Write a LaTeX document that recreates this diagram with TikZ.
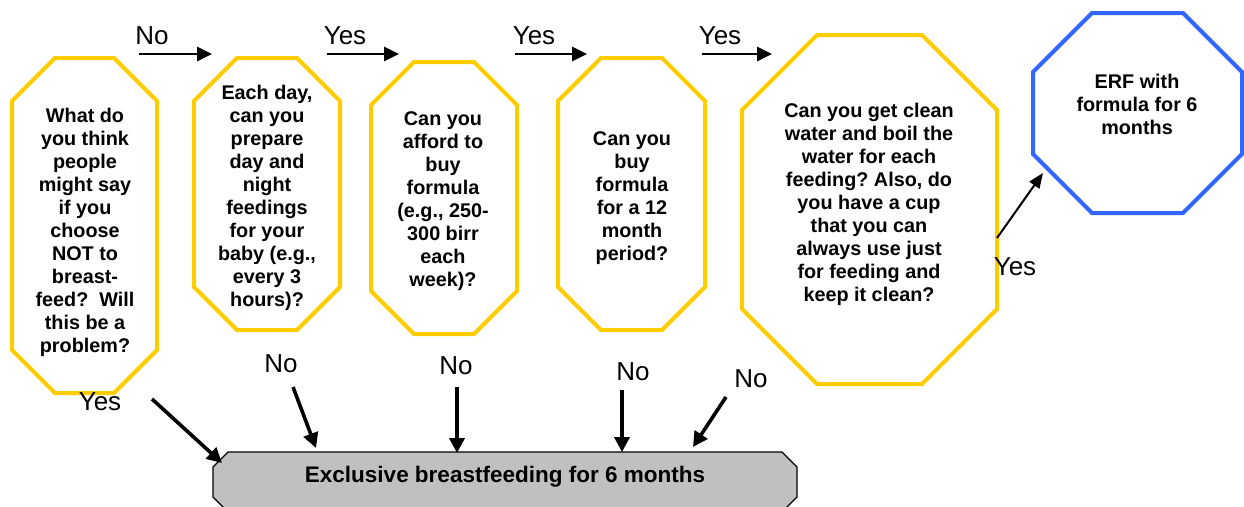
\documentclass[tikz,border=0pt]{standalone}
\usepackage{fontspec}
\setmainfont{Liberation Sans}
\usetikzlibrary{arrows.meta}
\definecolor{oyellow}{HTML}{FFCC00}
\definecolor{oblue}{HTML}{3366FF}
\definecolor{ogray}{HTML}{C0C0C0}
\frenchspacing
% octagon: [style] x1 y1 x2 y2 chamfer
\newcommand\octo[6][]{\draw[#1] ({#2+#6},#3) -- ({#4-#6},#3) -- (#4,{#3+#6}) -- (#4,{#5-#6}) -- ({#4-#6},#5) -- ({#2+#6},#5) -- (#2,{#5-#6}) -- (#2,{#3+#6}) -- cycle;}
\tikzset{
  qbox/.style={draw=oyellow,line width=4pt,line join=miter},
  endbox/.style={draw=oblue,line width=4pt},
  ebfbox/.style={draw=black,fill=ogray,line width=1.3pt},
  qtext/.style={align=center,inner sep=0pt,font=\fontsize{19.8}{23}\selectfont\bfseries},
  lbl/.style={inner sep=0pt,anchor=base,font=\fontsize{26}{30}\selectfont},
  toparrow/.style={line width=2.6pt,-{Triangle[length=15pt,width=14pt]}},
  botarrow/.style={line width=3.6pt,-{Triangle[length=15pt,width=15pt]}},
  thinarrow/.style={line width=2pt,-{Triangle[length=15pt,width=12pt]}}
}
\begin{document}
\begin{tikzpicture}[x=1pt,y=-1pt]
\useasboundingbox (0,0) rectangle (1244,506);
% shapes
\octo[qbox]{12}{58}{157}{393}{43}
\octo[qbox]{194}{58}{340}{330}{43}
\octo[qbox]{371}{62}{517}{334}{43}
\octo[qbox]{558}{58}{705}{330}{43}
\octo[qbox]{742}{35}{997}{384}{75}
\octo[endbox]{1033}{13}{1242}{213}{59}
\octo[ebfbox]{213}{452}{797}{512}{15}
% texts
\node[qtext] (q1) at (85,232) {What do\\you think\\people\\might say\\if you\\choose\\NOT to\\breast-\\feed?\ \ Will\\this be a\\problem?};
\node[qtext] (q2) at (267,198) {Each day,\\can you\\prepare\\day and\\night\\feedings\\for your\\baby (e.g.,\\every 3\\hours)?};
\node[qtext] (q3) at (443,201) {Can you\\afford to\\buy\\formula\\(e.g., 250-\\300 birr\\each\\week)?};
\node[qtext] (q4) at (632,198) {Can you\\buy\\formula\\for a 12\\month\\period?};
\node[qtext] (q5) at (869,204) {Can you get clean\\water and boil the\\water for each\\feeding? Also, do\\you have a cup\\that you can\\always use just\\for feeding and\\keep it clean?};
\node[qtext] (erf) at (1137,104) {ERF with\\formula for 6\\months};
\node[qtext,font=\fontsize{22.5}{26}\selectfont\bfseries] (ebf) at (505,477) {Exclusive breastfeeding for 6 months};
% arrow end points
\coordinate (t1a) at (139,54); \coordinate (t1b) at (212,54);
\coordinate (t2a) at (327,54); \coordinate (t2b) at (399,54);
\coordinate (t3a) at (515,54); \coordinate (t3b) at (587,54);
\coordinate (t4a) at (702,54); \coordinate (t4b) at (772,54);
\coordinate (ya) at (997,238); \coordinate (yb) at (1043,173);
\coordinate (b1a) at (152,399); \coordinate (b1b) at (222,463);
\coordinate (b2a) at (293,387); \coordinate (b2b) at (316,448);
\coordinate (b3a) at (457,387); \coordinate (b3b) at (457,453);
\coordinate (b4a) at (622,390); \coordinate (b4b) at (622,452);
\coordinate (b5a) at (726,397); \coordinate (b5b) at (693,447);
% arrows
\draw[toparrow] (t1a) -- (t1b);
\draw[toparrow] (t2a) -- (t2b);
\draw[toparrow] (t3a) -- (t3b);
\draw[toparrow] (t4a) -- (t4b);
\draw[thinarrow] (ya) -- (yb);
\draw[botarrow] (b1a) -- (b1b);
\draw[botarrow] (b2a) -- (b2b);
\draw[botarrow] (b3a) -- (b3b);
\draw[botarrow] (b4a) -- (b4b);
\draw[botarrow] (b5a) -- (b5b);
% labels
\node[lbl] (l1) at (152,44) {No};
\node[lbl] (l2) at (345,44) {Yes};
\node[lbl] (l3) at (534,44) {Yes};
\node[lbl] (l4) at (720,44) {Yes};
\node[lbl] (l5) at (1015,275) {Yes};
\node[lbl] (l6) at (100,410) {Yes};
\node[lbl] (l7) at (281,372) {No};
\node[lbl] (l8) at (456,374) {No};
\node[lbl] (l9) at (633,380) {No};
\node[lbl] (l10) at (751,387) {No};
\end{tikzpicture}
\end{document}
